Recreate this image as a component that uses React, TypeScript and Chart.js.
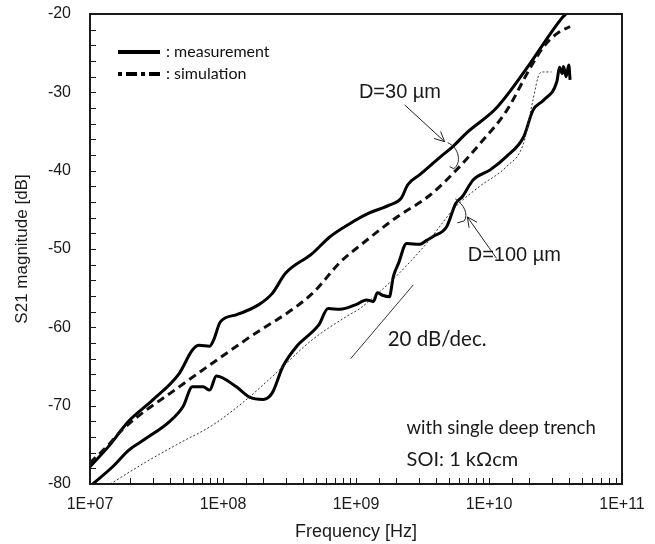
import React, { useEffect, useRef } from "react";
import { Chart, registerables } from "chart.js";

Chart.register(...registerables);

// ---- Data (frequency in Hz, magnitude in dB) ----
const freqD30Meas = [1.0e7, 1.38e7, 1.95e7, 2.95e7, 4.68e7, 5.89e7, 6.61e7, 7.94e7, 8.51e7, 9.55e7, 1.26e8, 1.86e8, 2.34e8, 2.95e8, 4.68e8, 6.31e8, 8.91e8, 1.26e9, 1.78e9, 2.19e9, 2.45e9, 3.02e9, 4.27e9, 5.37e9, 6.76e9, 1.15e10, 2.04e10, 2.69e10, 3.63e10, 3.8e10];
const magD30Meas = [-77.8, -75.2, -72.0, -69.3, -65.9, -62.9, -62.3, -62.4, -61.6, -59.3, -58.4, -57.1, -55.7, -53.1, -50.6, -48.5, -46.8, -45.4, -44.4, -43.5, -41.8, -40.5, -38.3, -36.9, -35.2, -31.9, -26.3, -23.3, -20.3, -20.0];

const freqD30Sim = [1.0e7, 1.38e7, 1.74e7, 4.68e7, 1.48e8, 4.68e8, 7.59e8, 1.12e9, 2.0e9, 3.55e9, 5.62e9, 8.51e9, 1.35e10, 2.04e10, 2.57e10, 3.24e10, 4.07e10];
const magD30Sim = [-77.3, -75.0, -73.1, -67.6, -61.6, -55.7, -51.7, -49.3, -46.0, -43.2, -40.0, -36.6, -32.4, -26.9, -24.2, -22.5, -21.6];

const freqD100Meas = [1.05e7, 1.48e7, 1.95e7, 2.63e7, 3.98e7, 5.01e7, 5.89e7, 7.08e7, 7.94e7, 8.91e7, 1.26e8, 1.58e8, 2.0e8, 2.34e8, 2.82e8, 3.55e8, 4.68e8, 5.25e8, 6.17e8, 7.59e8, 1.0e9, 1.2e9, 1.35e9, 1.45e9, 1.58e9, 1.78e9, 1.91e9, 2.09e9, 2.4e9, 3.02e9, 3.39e9, 3.8e9, 4.79e9, 5.62e9, 6.31e9, 7.59e9, 1.02e10, 1.35e10, 1.82e10, 2.14e10, 2.57e10, 3.24e10, 3.39e10, 3.55e10, 3.63e10, 3.8e10, 3.98e10, 4.07e10];
const magD100Meas = [-80.0, -77.8, -75.7, -74.2, -72.0, -70.1, -67.6, -67.6, -68.0, -66.2, -67.6, -68.9, -69.2, -68.4, -65.0, -62.5, -60.6, -59.7, -57.6, -57.7, -57.1, -56.5, -56.7, -55.6, -55.9, -56.1, -53.5, -51.8, -49.3, -49.4, -48.9, -48.4, -47.2, -44.2, -43.3, -41.2, -39.9, -38.2, -35.7, -32.3, -31.0, -28.6, -26.8, -27.6, -26.7, -28.0, -26.5, -28.4];

const freqD100Sim = [1.42e7, 2.63e7, 4.68e7, 8.32e7, 1.48e8, 2.34e8, 4.68e8, 8.51e8, 1.07e9, 1.41e9, 2.0e9, 3.39e9, 5.62e9, 8.51e9, 1.35e10, 1.82e10, 2.14e10, 2.4e10, 2.57e10, 2.95e10];
const magD100Sim = [-80.0, -77.2, -74.8, -72.5, -69.3, -66.3, -61.6, -58.6, -57.6, -55.9, -53.5, -49.3, -44.6, -42.0, -39.5, -36.5, -31.0, -27.6, -27.4, -27.4];

const freqSlope = [9.12e8, 2.69e9];
const magSlope = [-64.0, -54.6];

const xMin = 1e7;
const xMax = 1e11;
const yMin = -80;
const yMax = -20;

// annotation anchors (data space)
const labelD30 = { f: 2.14e9, v: -30.0, text: "D=30 \u00b5m" };
const arrowD30 = { f1: 2.32e9, v1: -31.6, f2: 4.64e9, v2: -36.3 };
const labelD100 = { f: 1.55e10, v: -50.8, text: "D=100 \u00b5m" };
const arrowD100 = { f1: 1.14e10, v1: -51.2, f2: 6.87e9, v2: -45.9 };
const labelSlope = { f: 1.73e9, v: -61.6, text: "20 dB/dec." };
const labelTrench = { f: 2.4e9, v: -72.85, text: "with single deep trench" };
const labelSOI = { f: 2.4e9, v: -76.94, text: "SOI: 1 k\u03a9cm" };

const pts = (f: number[], m: number[]) => f.map((x, i) => ({ x, y: m[i] }));

const ARIAL = '"Liberation Sans", Arial, sans-serif';
const CALIBRI = 'Lato, "Noto Sans", sans-serif';

function drawArrow(ctx: CanvasRenderingContext2D, x1: number, y1: number, x2: number, y2: number) {
  ctx.beginPath();
  ctx.moveTo(x1, y1);
  ctx.lineTo(x2, y2);
  const a = Math.atan2(y2 - y1, x2 - x1);
  const L = 11;
  const s = 0.45;
  ctx.moveTo(x2 - L * Math.cos(a - s), y2 - L * Math.sin(a - s));
  ctx.lineTo(x2, y2);
  ctx.lineTo(x2 - L * Math.cos(a + s), y2 - L * Math.sin(a + s));
  ctx.stroke();
}

const decorPlugin = {
  id: "decor",
  afterDatasetsDraw(chart: any) {
    const { ctx, chartArea, scales } = chart;
    const xs = scales.x;
    const ys = scales.y;
    const px = (f: number) => xs.getPixelForValue(f);
    const py = (v: number) => ys.getPixelForValue(v);
    ctx.save();

    ctx.strokeStyle = "#222";
    ctx.lineWidth = 1;
    const a1x1 = px(arrowD30.f1), a1y1 = py(arrowD30.v1), a1x2 = px(arrowD30.f2), a1y2 = py(arrowD30.v2);
    drawArrow(ctx, a1x1, a1y1, a1x2, a1y2);
    ctx.beginPath();
    ctx.moveTo(a1x2 + 3, a1y2 + 1);
    ctx.bezierCurveTo(a1x2 + 15, a1y2 + 6, a1x2 + 17, a1y2 + 22, a1x2 + 9, a1y2 + 27);
    ctx.lineTo(a1x2 + 5, a1y2 + 25);
    ctx.stroke();

    const a2x1 = px(arrowD100.f1), a2y1 = py(arrowD100.v1), a2x2 = px(arrowD100.f2), a2y2 = py(arrowD100.v2);
    drawArrow(ctx, a2x1, a2y1, a2x2, a2y2);
    ctx.beginPath();
    ctx.moveTo(a2x2 - 12, a2y2 - 18);
    ctx.bezierCurveTo(a2x2 - 3, a2y2 - 12, a2x2 + 1, a2y2 - 3, a2x2 - 3, a2y2 + 4);
    ctx.lineTo(a2x2 - 10, a2y2 + 6);
    ctx.stroke();

    // labels
    ctx.fillStyle = "#1a1a1a";
    ctx.textBaseline = "middle";
    ctx.font = `20px ${ARIAL}`;
    ctx.textAlign = "center";
    ctx.fillText(labelD30.text, px(labelD30.f), py(labelD30.v));
    ctx.fillText(labelD100.text, px(labelD100.f), py(labelD100.v));

    ctx.textAlign = "left";
    ctx.font = `20.5px ${CALIBRI}`;
    ctx.fillText(labelSlope.text, px(labelSlope.f), py(labelSlope.v));
    ctx.font = `18.5px ${CALIBRI}`;
    ctx.fillText(labelTrench.text, px(labelTrench.f), py(labelTrench.v));
    ctx.font = `20px ${CALIBRI}`;
    ctx.fillText(labelSOI.text, px(labelSOI.f), py(labelSOI.v));

    // legend
    const lx = chartArea.left;
    const ty = chartArea.top;
    ctx.strokeStyle = "#000";
    ctx.lineWidth = 4;
    ctx.setLineDash([]);
    ctx.beginPath();
    ctx.moveTo(lx + 28, ty + 38);
    ctx.lineTo(lx + 70, ty + 38);
    ctx.stroke();
    ctx.setLineDash([4, 4, 11, 4]);
    ctx.beginPath();
    ctx.moveTo(lx + 28, ty + 60);
    ctx.lineTo(lx + 70, ty + 60);
    ctx.stroke();
    ctx.setLineDash([]);
    ctx.font = `16px ${CALIBRI}`;
    ctx.fillStyle = "#111";
    ctx.fillText(": measurement", lx + 76, ty + 38);
    ctx.fillText(": simulation", lx + 76, ty + 60);

    ctx.restore();
  },
  afterDraw(chart: any) {
    const { ctx, chartArea, scales } = chart;
    const { left, right, top, bottom } = chartArea;
    ctx.save();
    ctx.strokeStyle = "#1a1a1a";
    ctx.lineWidth = 1;
    ctx.beginPath();
    scales.y.ticks.forEach((t: any) => {
      const y = Math.round(scales.y.getPixelForValue(t.value)) + 0.5;
      ctx.moveTo(left, y);
      ctx.lineTo(left + 6, y);
    });
    scales.x.ticks.forEach((t: any) => {
      const x = Math.round(scales.x.getPixelForValue(t.value)) + 0.5;
      ctx.moveTo(x, bottom);
      ctx.lineTo(x, bottom - 6);
    });
    ctx.stroke();
    ctx.lineWidth = 2;
    ctx.strokeRect(left, top, right - left, bottom - top);

    ctx.fillStyle = "#1a1a1a";
    ctx.textAlign = "center";
    ctx.textBaseline = "middle";
    ctx.font = `18px ${ARIAL}`;
    ctx.fillText("Frequency [Hz]", (left + right) / 2, 532);
    ctx.save();
    ctx.translate(22, (top + bottom) / 2);
    ctx.rotate(-Math.PI / 2);
    ctx.font = `17px ${ARIAL}`;
    ctx.fillText("S21 magnitude [dB]", 0, 0);
    ctx.restore();
    ctx.restore();
  },
};

export default function App() {
  const ref = useRef<HTMLCanvasElement | null>(null);

  useEffect(() => {
    if (!ref.current) return;
    const common = { pointRadius: 0, showLine: true, fill: false, cubicInterpolationMode: "monotone" as const };
    const chart = new Chart(ref.current, {
      type: "scatter",
      data: {
        datasets: [
          { label: "D=30 sim", data: pts(freqD30Sim, magD30Sim), borderColor: "#111", borderWidth: 3, borderDash: [8, 5], ...common },
          { label: "D=100 sim", data: pts(freqD100Sim, magD100Sim), borderColor: "#333", borderWidth: 1, borderDash: [2, 2], ...common },
          { label: "D=30 meas", data: pts(freqD30Meas, magD30Meas), borderColor: "#000", borderWidth: 3, ...common },
          { label: "D=100 meas", data: pts(freqD100Meas, magD100Meas), borderColor: "#000", borderWidth: 3, ...common },
          { label: "20 dB/dec", data: pts(freqSlope, magSlope), borderColor: "#333", borderWidth: 1, pointRadius: 0, showLine: true, fill: false },
        ],
      },
      options: {
        animation: false,
        responsive: false,
        devicePixelRatio: 1,
        layout: { padding: { top: 14, right: 33, bottom: 0, left: 0 } },
        plugins: { legend: { display: false }, tooltip: { enabled: false } },
        scales: {
          x: {
            type: "logarithmic",
            min: xMin,
            max: xMax,
            grid: { display: false, drawTicks: false },
            border: { display: false },
            afterFit: (s: any) => {
              s.height = 60;
              s.paddingLeft = 0;
              s.paddingRight = 0;
            },
            ticks: {
              autoSkip: false,
              maxRotation: 0,
              padding: 11,
              color: "#1a1a1a",
              font: { family: ARIAL, size: 16 },
              callback: (v: any) => {
                const e = Math.log10(Number(v));
                if (Math.abs(e - Math.round(e)) > 1e-6) return "";
                const n = Math.round(e);
                return "1E+" + (n < 10 ? "0" + n : String(n));
              },
            },
          },
          y: {
            type: "linear",
            min: yMin,
            max: yMax,
            grid: { display: false, drawTicks: false },
            border: { display: false },
            afterFit: (s: any) => {
              s.width = 90;
              s.paddingTop = 0;
              s.paddingBottom = 0;
            },
            ticks: {
              stepSize: 2,
              autoSkip: false,
              padding: 19,
              color: "#1a1a1a",
              font: { family: ARIAL, size: 16 },
              callback: (v: any) => (Number(v) % 10 === 0 ? String(v) : ""),
            },
          },
        },
      },
      plugins: [decorPlugin],
    });
    return () => chart.destroy();
  }, []);

  return (
    <div style={{ position: "fixed", left: 0, top: 0, width: 655, height: 544, background: "#fff" }}>
      <canvas ref={ref} width={655} height={544} style={{ width: 655, height: 544, display: "block" }} />
    </div>
  );
}
